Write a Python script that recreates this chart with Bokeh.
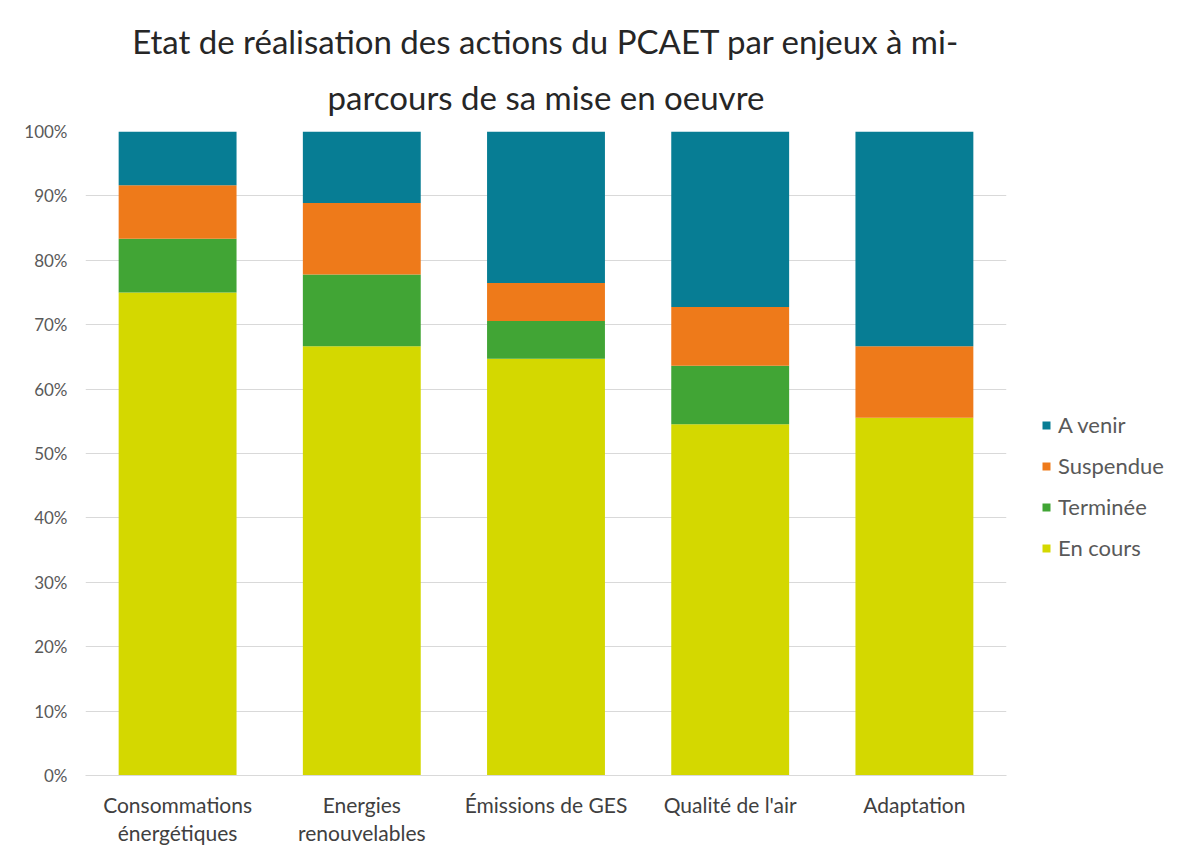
from bokeh.plotting import figure
from bokeh.layouts import row
from bokeh.models import ColumnDataSource, Legend, LegendItem, Title, FixedTicker, Range1d
from bokeh.embed import file_html
from bokeh.resources import INLINE

categories = ["Consommations\nénergétiques", "Energies\nrenouvelables", "Émissions de GES", "Qualité de l'air", "Adaptation"]
en_cours = [75.00, 66.67, 64.71, 54.55, 55.56]
terminee = [8.33, 11.11, 5.88, 9.09, 0.00]
suspendue = [8.33, 11.11, 5.88, 9.09, 11.11]
a_venir = [8.34, 11.11, 23.53, 27.27, 33.33]
series = ["En cours", "Terminée", "Suspendue", "A venir"]
colors = ["#D4D800", "#41A535", "#EE7A1A", "#077D94"]
y_ticks = [0, 10, 20, 30, 40, 50, 60, 70, 80, 90, 100]
title_line1 = "Etat de réalisation des actions du PCAET par enjeux à mi-"
title_line2 = "parcours de sa mise en oeuvre"

source = ColumnDataSource(dict(cat=categories, s0=en_cours, s1=terminee, s2=suspendue, s3=a_venir))

FONT = "Lato"
H = 848

p = figure(x_range=categories, y_range=Range1d(0, 100), width=1010, height=H,
           output_backend="svg", toolbar_location=None,
           min_border_left=85, min_border_right=4, min_border_top=131, min_border_bottom=73)

p.vbar_stack(["s0", "s1", "s2", "s3"], x="cat", width=0.64, source=source,
             color=colors, line_color=None)

p.add_layout(Title(text=title_line2, align="center", offset=47,
                   text_font=FONT, text_font_size="33px", text_font_style="normal",
                   text_color="#262626", text_line_height=0.65, standoff=29), "above")
p.add_layout(Title(text=title_line1, align="center", offset=47,
                   text_font=FONT, text_font_size="33px", text_font_style="normal",
                   text_color="#262626", text_line_height=0.65, standoff=0), "above")

p.yaxis.ticker = FixedTicker(ticks=y_ticks)
p.yaxis.major_label_overrides = {t: f"{t}%" for t in y_ticks}
p.yaxis.axis_line_color = None
p.yaxis.major_tick_line_color = None
p.yaxis.minor_tick_line_color = None
p.yaxis.major_label_text_font = FONT
p.yaxis.major_label_text_font_size = "17px"
p.yaxis.major_label_text_color = "#595959"
p.yaxis.major_label_standoff = 12

p.xaxis.axis_line_color = "#D9D9D9"
p.xaxis.major_tick_line_color = None
p.xaxis.minor_tick_line_color = None
p.xaxis.major_label_text_font = FONT
p.xaxis.major_label_text_font_size = "21px"
p.xaxis.major_label_text_color = "#404040"
p.xaxis.major_label_text_line_height = 1.15
p.xaxis.major_label_standoff = 10

p.xgrid.grid_line_color = None
p.ygrid.grid_line_color = "#D9D9D9"
p.ygrid.ticker = FixedTicker(ticks=y_ticks)
p.outline_line_color = None

# legend panel (separate figure so the legend sits outside the bar area)
lf = figure(width=158, height=H, output_backend="svg", toolbar_location=None,
            x_range=Range1d(0, 1), y_range=Range1d(0, 1),
            x_axis_location=None, y_axis_location=None,
            min_border_left=0, min_border_right=0, min_border_top=0, min_border_bottom=0)
lf.grid.visible = False
lf.outline_line_color = None
swatch = ColumnDataSource(dict(x=[0.5], top=[0.0]))
leg_r = [lf.vbar(x="x", top="top", width=0.5, source=swatch, color=c, line_color=None) for c in colors]
items = [LegendItem(label=series[i], renderers=[leg_r[i]]) for i in range(3, -1, -1)]
legend = Legend(items=items, location=(31, 214), orientation="vertical",
                glyph_width=10, glyph_height=10, label_height=27, spacing=14, padding=0, margin=0,
                label_standoff=7, label_text_font=FONT, label_text_font_size="22px",
                label_text_color="#595959", border_line_color=None, background_fill_alpha=0)
lf.add_layout(legend, "center")

open("out.html", "w").write(file_html(row(p, lf), INLINE))
